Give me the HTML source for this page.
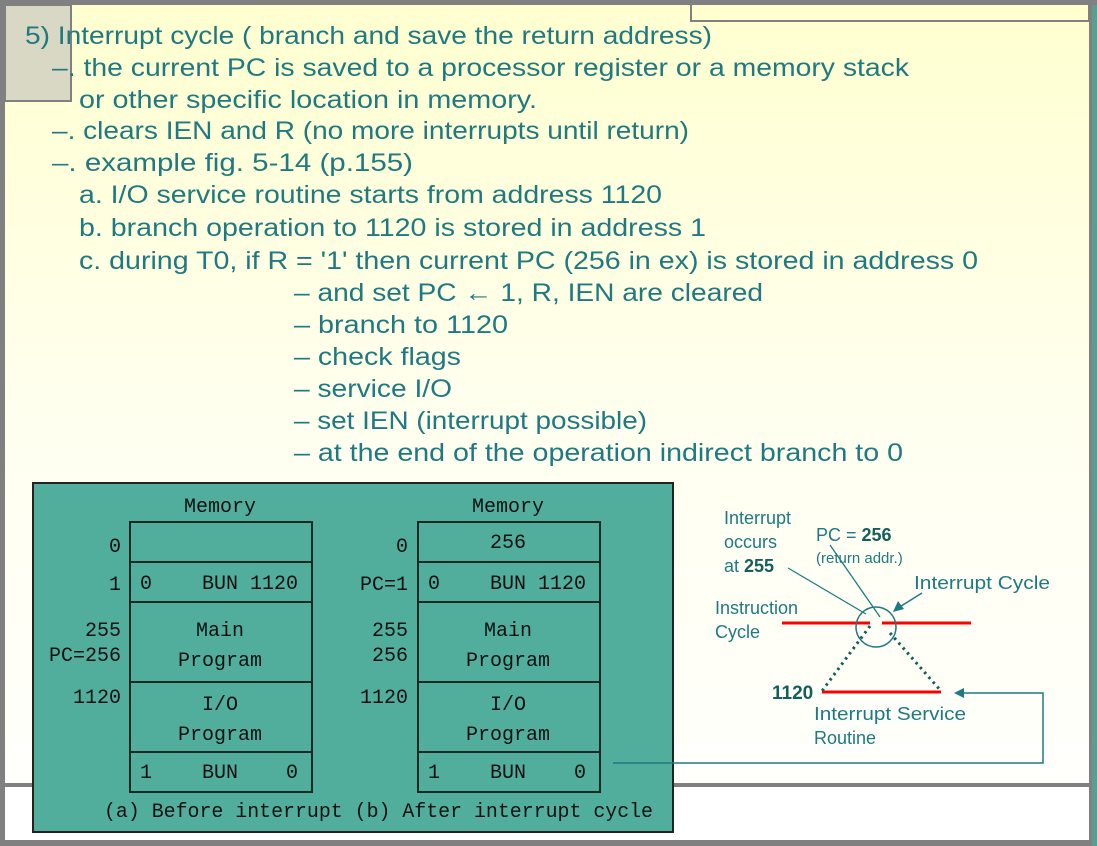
<!DOCTYPE html>
<html><head><meta charset="utf-8"><style>
html,body{margin:0;padding:0;width:1097px;height:846px;overflow:hidden;background:#808080}
svg{display:block}
</style></head><body>
<svg width="1097" height="846" viewBox="0 0 1097 846" xmlns="http://www.w3.org/2000/svg">
<defs>
<linearGradient id="bg" x1="0" y1="0" x2="0" y2="1">
<stop offset="0" stop-color="#ffffd0"/><stop offset="0.55" stop-color="#fffff0"/><stop offset="1" stop-color="#fffffc"/>
</linearGradient>
</defs>
<rect x="0" y="0" width="1097" height="846" fill="#808080"/>
<rect x="5" y="5" width="1084" height="778" fill="url(#bg)"/>
<rect x="5" y="787" width="1084" height="53" fill="#ffffff"/>
<rect x="1092" y="5" width="5" height="841" fill="#5a9e90"/>
<rect x="691" y="4" width="398" height="17" fill="#ffffd0" stroke="#808080" stroke-width="2"/>
<rect x="5" y="5" width="66" height="96" fill="#d8d8c4" stroke="#808080" stroke-width="2"/>
<g font-family="Liberation Sans, sans-serif" font-size="25" fill="#1e7a80" lengthAdjust="spacingAndGlyphs">
<text x="25" y="44" textLength="687" lengthAdjust="spacingAndGlyphs">5) Interrupt cycle ( branch and save the return address)</text>
<text x="52" y="76" textLength="857" lengthAdjust="spacingAndGlyphs">–. the current PC is saved to a processor register or a memory stack</text>
<text x="79" y="108" textLength="458" lengthAdjust="spacingAndGlyphs">or other specific location in memory.</text>
<text x="52" y="139" textLength="637" lengthAdjust="spacingAndGlyphs">–. clears IEN and R (no more interrupts until return)</text>
<text x="52" y="171" textLength="361" lengthAdjust="spacingAndGlyphs">–. example fig. 5-14 (p.155)</text>
<text x="79" y="203" textLength="583" lengthAdjust="spacingAndGlyphs">a. I/O service routine starts from address 1120</text>
<text x="79" y="236" textLength="627" lengthAdjust="spacingAndGlyphs">b. branch operation to 1120 is stored in address 1</text>
<text x="79" y="269" textLength="899" lengthAdjust="spacingAndGlyphs">c. during T0, if R = '1' then current PC (256 in ex) is stored in address 0</text>
<text x="294" y="301" textLength="469" lengthAdjust="spacingAndGlyphs">– and set PC ← 1, R, IEN are cleared</text>
<text x="294" y="333" textLength="214" lengthAdjust="spacingAndGlyphs">– branch to 1120</text>
<text x="294" y="365" textLength="167" lengthAdjust="spacingAndGlyphs">– check flags</text>
<text x="294" y="397" textLength="158" lengthAdjust="spacingAndGlyphs">– service I/O</text>
<text x="294" y="429" textLength="353" lengthAdjust="spacingAndGlyphs">– set IEN (interrupt possible)</text>
<text x="294" y="461" textLength="609" lengthAdjust="spacingAndGlyphs">– at the end of the operation indirect branch to 0</text>
</g>
<rect x="33" y="483" width="640" height="349" fill="#52ae9c" stroke="#222" stroke-width="2"/>
<g fill="none" stroke="#1a2a22" stroke-width="2">
<rect x="130" y="522" width="182" height="270"/>
<line x1="130" y1="562" x2="312" y2="562"/><line x1="130" y1="602" x2="312" y2="602"/>
<line x1="130" y1="682" x2="312" y2="682"/><line x1="130" y1="752" x2="312" y2="752"/>
<rect x="418" y="522" width="182" height="270"/>
<line x1="418" y1="562" x2="600" y2="562"/><line x1="418" y1="602" x2="600" y2="602"/>
<line x1="418" y1="682" x2="600" y2="682"/><line x1="418" y1="752" x2="600" y2="752"/>
</g>
<g font-family="Liberation Mono, monospace" font-size="20" fill="#111">
<text x="220" y="512" text-anchor="middle">Memory</text>
<text x="508" y="512" text-anchor="middle">Memory</text>
<text x="121" y="552" text-anchor="end">0</text>
<text x="121" y="590" text-anchor="end">1</text>
<text x="140" y="589">0</text><text x="298" y="589" text-anchor="end">BUN 1120</text>
<text x="121" y="636" text-anchor="end">255</text>
<text x="121" y="661" text-anchor="end">PC=256</text>
<text x="121" y="703" text-anchor="end">1120</text>
<text x="220" y="636" text-anchor="middle">Main</text>
<text x="220" y="666" text-anchor="middle">Program</text>
<text x="220" y="710" text-anchor="middle">I/O</text>
<text x="220" y="740" text-anchor="middle">Program</text>
<text x="140" y="778">1</text><text x="220" y="778" text-anchor="middle">BUN</text><text x="298" y="778" text-anchor="end">0</text>
<text x="408" y="552" text-anchor="end">0</text>
<text x="508" y="548" text-anchor="middle">256</text>
<text x="408" y="590" text-anchor="end">PC=1</text>
<text x="428" y="589">0</text><text x="586" y="589" text-anchor="end">BUN 1120</text>
<text x="408" y="636" text-anchor="end">255</text>
<text x="408" y="661" text-anchor="end">256</text>
<text x="408" y="703" text-anchor="end">1120</text>
<text x="508" y="636" text-anchor="middle">Main</text>
<text x="508" y="666" text-anchor="middle">Program</text>
<text x="508" y="710" text-anchor="middle">I/O</text>
<text x="508" y="740" text-anchor="middle">Program</text>
<text x="428" y="778">1</text><text x="508" y="778" text-anchor="middle">BUN</text><text x="586" y="778" text-anchor="end">0</text>
<text x="104" y="817" textLength="549" lengthAdjust="spacingAndGlyphs">(a) Before interrupt (b) After interrupt cycle</text>
</g>
<polyline points="613,763 1043,763 1043,693 960,693" fill="none" stroke="#1e7a80" stroke-width="1.5"/>
<polygon points="954,693 964,688 964,698" fill="#1e7a80"/>
<line x1="782" y1="623" x2="870" y2="623" stroke="#ff0000" stroke-width="3"/>
<line x1="882" y1="623" x2="971" y2="623" stroke="#ff0000" stroke-width="3"/>
<line x1="822" y1="692" x2="941" y2="692" stroke="#ff0000" stroke-width="3"/>
<line x1="870" y1="626" x2="822" y2="691" stroke="#145f5a" stroke-width="3" stroke-dasharray="2.5,4"/>
<line x1="890" y1="633" x2="941" y2="691" stroke="#145f5a" stroke-width="3" stroke-dasharray="2.5,4"/>
<circle cx="876" cy="627" r="20" fill="none" stroke="#1e7a80" stroke-width="1.5"/>
<line x1="788" y1="568" x2="866" y2="614" stroke="#1e7a80" stroke-width="1.3"/>
<line x1="830" y1="545" x2="880" y2="617" stroke="#1e7a80" stroke-width="1.3"/>
<line x1="922" y1="593" x2="898" y2="608" stroke="#1e7a80" stroke-width="1.5"/>
<polygon points="893,612 898,601 904,609" fill="#1e7a80"/>
<g font-family="Liberation Sans, sans-serif" font-size="18" fill="#1e7a80">
<text x="724" y="524">Interrupt</text>
<text x="724" y="548">occurs</text>
<text x="724" y="572">at <tspan font-weight="bold" fill="#145f5a">255</tspan></text>
<text x="816" y="541">PC = <tspan font-weight="bold" fill="#145f5a">256</tspan></text>
<text x="816" y="563" font-size="15">(return addr.)</text>
<text x="914" y="589" textLength="136" lengthAdjust="spacingAndGlyphs">Interrupt Cycle</text>
<text x="715" y="614">Instruction</text>
<text x="715" y="638">Cycle</text>
<text x="772" y="699" font-weight="bold" fill="#145f5a" font-size="19">1120</text>
<text x="814" y="720" textLength="152" lengthAdjust="spacingAndGlyphs">Interrupt Service</text>
<text x="814" y="744">Routine</text>
</g>
</svg>
</body></html>
